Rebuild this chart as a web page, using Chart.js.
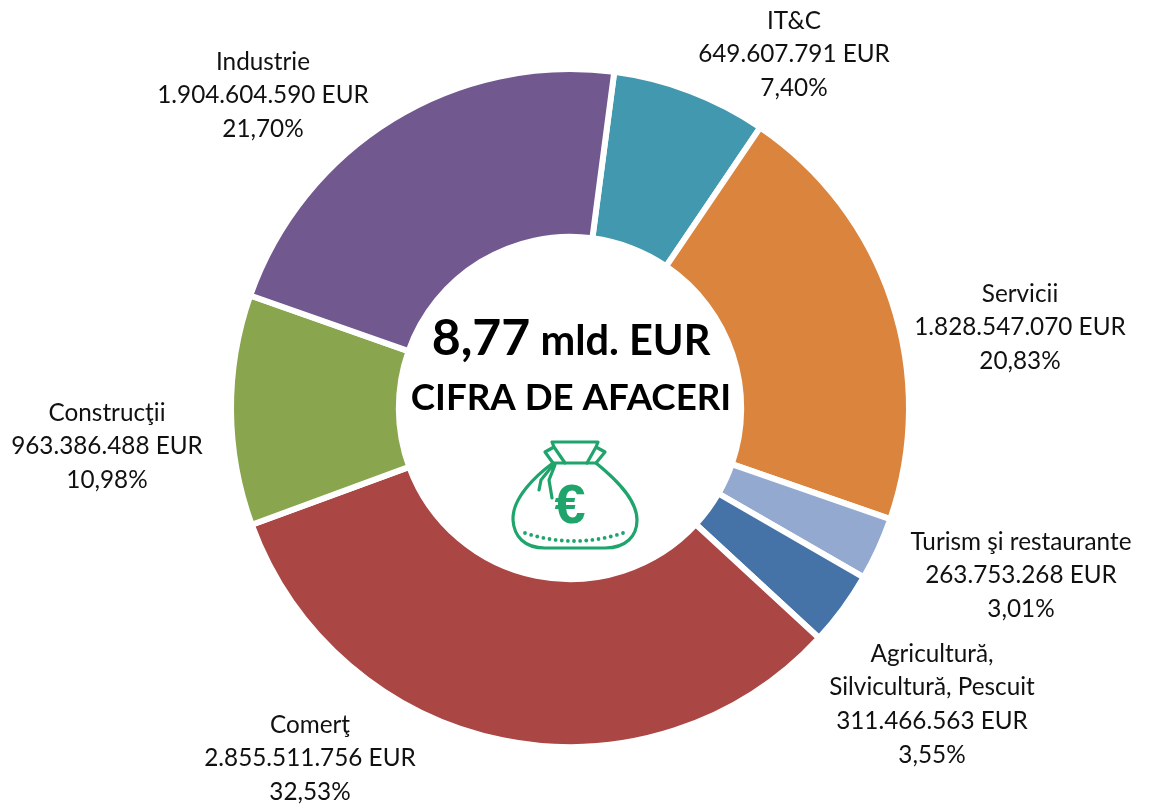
<!DOCTYPE html>
<html lang="ro">
<head>
<meta charset="utf-8">
<title>Cifra de afaceri</title>
<script src="https://cdn.jsdelivr.net/npm/chart.js@4"></script>
<style>
  html, body { margin: 0; padding: 0; background: #fff; }
  canvas { display: block; }
</style>
</head>
<body>
<canvas id="grafic" width="1149" height="809"></canvas>
<script>
// date
const categorii = ['IT&C', 'Servicii', 'Turism şi restaurante', 'Agricultură, Silvicultură, Pescuit', 'Comerţ', 'Construcţii', 'Industrie'];
const valori = [649607791, 1828547070, 263753268, 311466563, 2855511756, 963386488, 1904604590];
const procente = [7.40, 20.83, 3.01, 3.55, 32.53, 10.98, 21.70];
const culori = ['#4298af', '#db843d', '#93a9cf', '#4572a7', '#aa4643', '#89a54e', '#71588f'];
const titluTotal = '8,77';
const titluUnitate = ' mld. EUR';
const titluCentru = 'CIFRA DE AFACERI';

// unde stau etichetele pe pagina: x centru, y prima linie
const pozitiiEtichete = [[794, 21], [1020, 294], [1021, 542], [932, 654], [310, 725], [107, 413], [263, 62]];
const FONT = 'Lato, "Noto Sans", sans-serif';

function formatValoare(v) {
    return String(v).replace(/\B(?=(\d{3})+$)/g, '.') + ' EUR';
}

function formatProcent(p) {
    return p.toFixed(2).replace('.', ',') + '%';
}

function liniiEticheta(i) {
    // Agricultura are numele pe doua randuri
    const nume = categorii[i].startsWith('Agricultur') ? categorii[i].split(' ').slice(0, 1).concat(categorii[i].split(' ').slice(1).join(' ')) : [categorii[i]];
    return nume.concat(formatValoare(valori[i]), formatProcent(procente[i]));
}

const pluginEtichete = {
    id: 'etichete',
    afterDraw(chart) {
        const ctx = chart.ctx;
        ctx.save();
        ctx.fillStyle = '#111';
        ctx.textAlign = 'center';
        ctx.textBaseline = 'middle';
        ctx.font = '24.3px ' + FONT;
        categorii.forEach((c, i) => {
            const [x, y] = pozitiiEtichete[i];
            liniiEticheta(i).forEach((linie, k) => ctx.fillText(linie, x, y + k * 33.6));
        });
        ctx.restore();
    }
};

const pluginCentru = {
    id: 'centru',
    afterDraw(chart) {
        const ctx = chart.ctx;
        ctx.save();
        ctx.fillStyle = '#000';
        ctx.textBaseline = 'alphabetic';
        ctx.textAlign = 'left';
        // prima linie are doua marimi
        ctx.font = 'bold 50px ' + FONT;
        const w1 = ctx.measureText(titluTotal).width;
        ctx.font = 'bold 41.5px ' + FONT;
        const w2 = ctx.measureText(titluUnitate).width;
        const x0 = 571 - (w1 + w2) / 2;
        ctx.font = 'bold 50px ' + FONT;
        ctx.fillText(titluTotal, x0, 355);
        ctx.font = 'bold 41.5px ' + FONT;
        ctx.fillText(titluUnitate, x0 + w1, 355);
        ctx.textAlign = 'center';
        ctx.font = 'bold 36.7px ' + FONT;
        ctx.fillText(titluCentru, 571, 410);
        desenSac(ctx);
        ctx.restore();
    }
};

// sacul cu bani din mijloc
function desenSac(ctx) {
    ctx.strokeStyle = '#1fa56c';
    ctx.fillStyle = '#1fa56c';
    ctx.lineWidth = 3.2;
    ctx.lineJoin = 'round';
    ctx.lineCap = 'round';
    // corpul
    ctx.beginPath();
    ctx.moveTo(553, 463);
    ctx.bezierCurveTo(538, 474, 512, 497, 513, 520);
    ctx.bezierCurveTo(514, 536, 524, 548, 545, 548);
    ctx.lineTo(605, 548);
    ctx.bezierCurveTo(626, 548, 637, 536, 637, 520);
    ctx.bezierCurveTo(637, 498, 612, 476, 596, 463);
    ctx.closePath();
    ctx.stroke();
    // gura
    ctx.beginPath();
    ctx.moveTo(553, 463);
    ctx.lineTo(545, 452);
    ctx.lineTo(554, 447);
    ctx.lineTo(552, 442);
    ctx.lineTo(598, 442);
    ctx.lineTo(596, 447);
    ctx.lineTo(605, 452);
    ctx.lineTo(596, 463);
    ctx.moveTo(554, 447);
    ctx.lineTo(565, 463);
    ctx.moveTo(596, 447);
    ctx.lineTo(587, 463);
    // snurul
    ctx.moveTo(553, 465);
    ctx.lineTo(541, 480);
    ctx.lineTo(539, 490);
    ctx.moveTo(555, 465);
    ctx.lineTo(549, 480);
    ctx.lineTo(552, 498);
    ctx.stroke();
    // euro
    ctx.textAlign = 'center';
    ctx.textBaseline = 'middle';
    ctx.font = 'bold 56px "Liberation Sans", sans-serif';
    ctx.fillText('€', 570, 508);
    // punctele de jos
    for (let i = 0; i < 17; i++) {
        const t = (i - 8) / 8;
        ctx.beginPath();
        ctx.arc(574 + t * 49, 541 - t * t * 8, 1.9, 0, 2 * Math.PI);
        ctx.fill();
    }
}

new Chart(document.getElementById('grafic'), {
    type: 'doughnut',
    data: {
        labels: categorii,
        datasets: [{
            data: valori,
            backgroundColor: culori,
            borderColor: '#fff',
            borderWidth: 6
        }]
    },
    options: {
        responsive: false,
        animation: false,
        rotation: 7.5,
        cutout: '50.5%',
        layout: { padding: { left: 228, right: 237, top: 66, bottom: 59 } },
        plugins: {
            legend: { display: false },
            tooltip: { enabled: false }
        }
    },
    plugins: [pluginEtichete, pluginCentru]
});
</script>
</body>
</html>
